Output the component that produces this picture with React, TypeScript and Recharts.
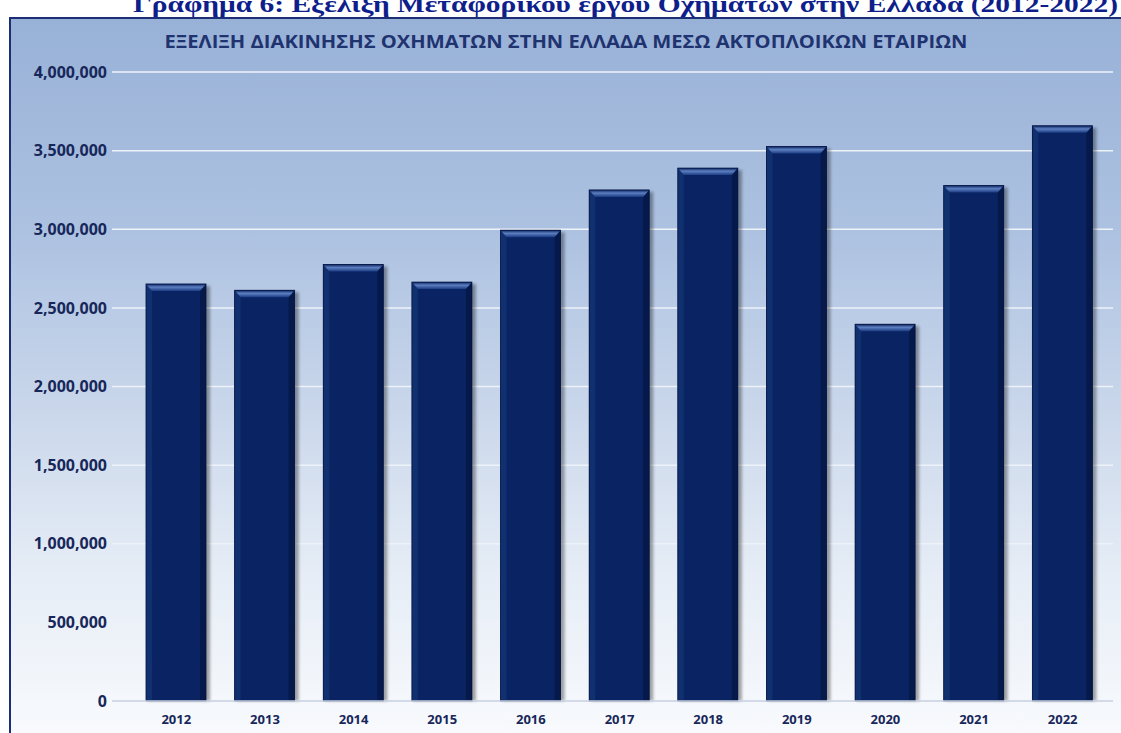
import { Bar, BarChart, CartesianGrid, XAxis, YAxis } from 'recharts';

const YEARS = ['2012', '2013', '2014', '2015', '2016', '2017', '2018', '2019', '2020', '2021', '2022'];
const VEHICLES = [2652000, 2612000, 2776000, 2664000, 2994000, 3250000, 3389000, 3526000, 2396000, 3278000, 3658000];
const Y_TICKS = [0, 500000, 1000000, 1500000, 2000000, 2500000, 3000000, 3500000, 4000000];

const TOP_TITLE = 'Γράφημα 6: Εξέλιξη Μεταφορικού έργου Οχημάτων στην Ελλάδα (2012-2022)';
const CHART_TITLE = 'ΕΞΕΛΙΞΗ ΔΙΑΚΙΝΗΣΗΣ ΟΧΗΜΑΤΩΝ ΣΤΗΝ ΕΛΛΑΔΑ ΜΕΣΩ ΑΚΤΟΠΛΟΙΚΩΝ ΕΤΑΙΡΙΩΝ';

const data = YEARS.map((year, i) => ({ year, vehicles: VEHICLES[i] }));

const fmt = (v: number) => v.toLocaleString('en-US');

// bar with a bevelled look, like the office chart
function BevelBar(props: any) {
  const { x, y, width, height } = props;
  if (!height || height <= 0) return null;
  const b = 6;
  return (
    <g>
      <rect x={x + 2} y={y + 2} width={width + 2} height={height - 2} fill="#000" opacity={0.35} filter="url(#barBlur)" />
      <rect x={x} y={y} width={width} height={height} fill="#0a2463" />
      <polygon points={`${x},${y} ${x + b},${y + b} ${x + b},${y + height} ${x},${y + height}`} fill="#10306f" />
      <polygon points={`${x + width},${y} ${x + width - b},${y + b} ${x + width - b},${y + height} ${x + width},${y + height}`} fill="#05194a" />
      <polygon points={`${x},${y} ${x + width},${y} ${x + width - b},${y + b + 1} ${x + b},${y + b + 1}`} fill="url(#bevelTop)" />
      <rect x={x} y={y} width={width} height={height} fill="none" stroke="#041342" strokeWidth={0.8} />
    </g>
  );
}

export default function App() {
  return (
    <div style={{ position: 'absolute', left: 0, top: 0, width: 1121, height: 733, overflow: 'hidden', background: '#fff' }}>
      <svg width={0} height={0} style={{ position: 'absolute' }}>
        <defs>
          <linearGradient id="bevelTop" x1="0" y1="0" x2="0" y2="1">
            <stop offset="0" stopColor="#0b2562" />
            <stop offset="0.45" stopColor="#5d7fc0" />
            <stop offset="1" stopColor="#1a3b82" />
          </linearGradient>
          <filter id="barBlur" x="-20%" y="-5%" width="140%" height="110%">
            <feGaussianBlur stdDeviation="1.5" />
          </filter>
        </defs>
      </svg>

      {/* outer frame, its right and bottom edges are outside the picture */}
      <div
        style={{
          position: 'absolute',
          left: 9,
          top: 17,
          width: 1112,
          height: 716,
          boxSizing: 'border-box',
          borderLeft: '2.5px solid #1c2e76',
          borderTop: '2.5px solid #1c2e76',
          background: 'linear-gradient(to bottom, #98b1d7 0%, #adc2e1 30%, #cad7eb 55%, #e6edf6 78%, #f8fafd 100%)',
        }}
      />

      <svg width={1121} height={733} style={{ position: 'absolute', left: 0, top: 0 }}>
        <text x={133} y={12} fontFamily="'Liberation Serif', serif" fontWeight="bold" fontSize={24} fill="#0e1f8c" textLength={985} lengthAdjust="spacingAndGlyphs">
          {TOP_TITLE}
        </text>
        <text x={566} y={48} textAnchor="middle" fontFamily="'Open Sans', sans-serif" fontWeight="bold" fontSize={17} fill="#1f3370" textLength={803} lengthAdjust="spacingAndGlyphs">
          {CHART_TITLE}
        </text>
      </svg>

      <div style={{ position: 'absolute', left: 8, top: 8 }}>
        <BarChart width={1113} height={725} data={data} margin={{ top: 64, right: 8, bottom: 0, left: 0 }} barSize={60}>
          <CartesianGrid vertical={false} stroke="#eef3fa" strokeWidth={1.5} />
          <XAxis
            dataKey="year"
            height={32}
            padding={{ left: 20, right: 6 }}
            tickLine={false}
            tickSize={0}
            tickMargin={14}
            axisLine={{ stroke: '#c8d2e2', strokeWidth: 1.5 }}
            tick={{ fontFamily: "'Open Sans', sans-serif", fontWeight: 700, fontSize: 13, fill: '#17275a' }}
          />
          <YAxis
            width={104}
            domain={[0, 4000000]}
            ticks={Y_TICKS}
            tickFormatter={fmt}
            tickLine={false}
            tickSize={0}
            tickMargin={5}
            axisLine={false}
            tick={{ fontFamily: "'Open Sans', sans-serif", fontWeight: 700, fontSize: 16, fill: '#17275a' }}
          />
          <Bar dataKey="vehicles" shape={<BevelBar />} isAnimationActive={false} />
        </BarChart>
      </div>
    </div>
  );
}
